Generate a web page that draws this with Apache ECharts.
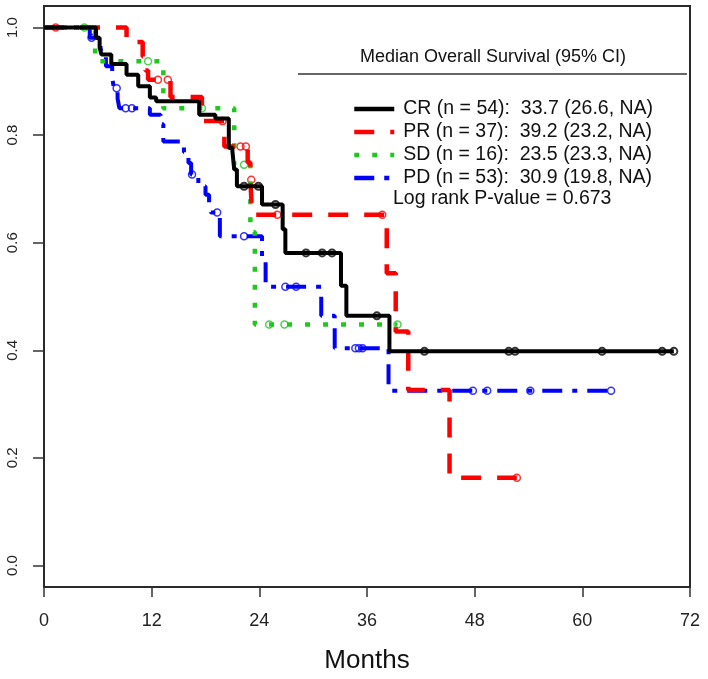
<!DOCTYPE html>
<html>
<head>
<meta charset="utf-8">
<script src="https://cdn.jsdelivr.net/npm/echarts@6/dist/echarts.min.js"></script>
<style>
html,body{margin:0;padding:0;background:#fff;}
#chart{width:708px;height:679px;}
</style>
</head>
<body>
<div id="chart"></div>
<script>
// ---- Data ----
const xTicks = [0, 12, 24, 36, 48, 60, 72];
const yTicks = [0, 0.2, 0.4, 0.6, 0.8, 1.0];

const groupNames = ['CR (n = 54):  33.7 (26.6, NA)', 'PR (n = 37):  39.2 (23.2, NA)', 'SD (n = 16):  23.5 (23.3, NA)', 'PD (n = 53):  30.9 (19.8, NA)'];
const headerText = 'Median Overall Survival (95% CI)';
const logRankText = 'Log rank P-value = 0.673';

const crTime = [0, 5.8, 6.2, 6.4, 7.5, 9.2, 10.5, 11.8, 12.5, 17.3, 19.1, 20.6, 21.0, 21.2, 21.5, 24.3, 26.6, 26.9, 33.1, 33.7, 38.5, 70.2];
const crSurv = [1, 0.981, 0.963, 0.950, 0.932, 0.912, 0.891, 0.870, 0.863, 0.838, 0.831, 0.776, 0.770, 0.736, 0.705, 0.671, 0.625, 0.581, 0.520, 0.464, 0.398, 0.398];
const crCens = [22.3, 23.9, 25.8, 29.2, 31.0, 32.1, 37.1, 42.4, 51.8, 52.5, 62.2, 68.9, 70.2];

const prTime = [0, 9.2, 11.0, 11.3, 11.6, 14.1, 17.6, 17.8, 20.1, 22.7, 23.0, 23.2, 38.2, 39.2, 40.6, 45.2, 52.7];
const prSurv = [1, 0.973, 0.946, 0.920, 0.903, 0.871, 0.848, 0.826, 0.779, 0.749, 0.717, 0.652, 0.543, 0.435, 0.326, 0.163, 0.163];
const prCens = [1.3, 12.7, 13.8, 19.9, 21.9, 22.5, 23.1, 26.0, 37.7, 52.7];

const sdTime = [0, 5.7, 13.3, 21.2, 23.0, 23.5, 39.4];
const sdSurv = [1, 0.9375, 0.850, 0.745, 0.620, 0.448, 0.448];
const sdCens = [4.5, 11.6, 17.6, 22.3, 25.1, 26.8, 39.4];

const pdTime = [0, 5.1, 6.3, 6.5, 6.9, 7.6, 7.8, 8.2, 8.4, 11.8, 13.0, 13.3, 15.6, 16.1, 16.4, 17.2, 18.0, 18.4, 18.6, 19.6, 24.3, 24.7, 30.9, 32.4, 38.4, 63.2];
const pdSurv = [1, 0.981, 0.962, 0.949, 0.928, 0.906, 0.887, 0.868, 0.850, 0.838, 0.820, 0.788, 0.768, 0.748, 0.727, 0.705, 0.689, 0.668, 0.656, 0.612, 0.565, 0.518, 0.464, 0.404, 0.325, 0.325];
const pdCens = [5.3, 8.1, 9.1, 9.8, 16.5, 19.3, 22.3, 26.9, 28.1, 34.7, 35.1, 35.5, 47.8, 49.4, 54.2, 63.2];

// ---- Build ----
const FONT = '"Liberation Sans", Arial, sans-serif';
function pairs(t, s) { return t.map((v, i) => [v, s[i]]); }
function survAt(t, s, x) { let v = s[0]; for (let i = 0; i < t.length; i++) { if (t[i] <= x) v = s[i]; } return v; }
function cens(t, s, c) { return c.map(x => [x, survAt(t, s, x)]); }

const groups = [
  {name: groupNames[0], t: crTime, s: crSurv, c: crCens, color: '#000000', width: 4, type: 'solid', bw: 2},
  {name: groupNames[1], t: prTime, s: prSurv, c: prCens, color: '#ff0000', width: 4.5, type: [20, 16], bw: 1.5},
  {name: groupNames[2], t: sdTime, s: sdSurv, c: sdCens, color: '#1fc71f', width: 4.5, type: [5, 13], bw: 1.5},
  {name: groupNames[3], t: pdTime, s: pdSurv, c: pdCens, color: '#0000ff', width: 4, type: [20, 10, 5, 10], bw: 1.5}
];

const series = [];
groups.slice().reverse().forEach(g => {
  series.push({
    name: g.name, type: 'line', step: 'end', data: pairs(g.t, g.s), symbol: 'none',
    lineStyle: {color: g.color, width: g.width, type: g.type, cap: 'butt'},
    itemStyle: {color: g.color}, silent: true
  });
});
groups.slice().reverse().forEach(g => {
  series.push({
    name: g.name + ' censored', type: 'scatter', data: cens(g.t, g.s, g.c), symbol: 'circle', symbolSize: 7,
    itemStyle: {color: 'rgba(0,0,0,0)', borderColor: g.color, borderWidth: g.bw}, silent: true
  });
});

const chart = echarts.init(document.getElementById('chart'), null, {renderer: 'canvas'});
chart.setOption({
  animation: false,
  backgroundColor: '#ffffff',
  grid: {left: 44, right: 18, top: 6, bottom: 91, show: true, borderColor: '#2a2a2a', borderWidth: 2, backgroundColor: 'transparent'},
  xAxis: {
    type: 'value', min: xTicks[0], max: xTicks[xTicks.length - 1], interval: 12,
    axisLine: {show: false, onZero: false},
    axisTick: {show: true, length: 10, inside: false, lineStyle: {color: '#333', width: 1.5}},
    axisLabel: {fontSize: 18, color: '#222', fontFamily: FONT, margin: 25},
    splitLine: {show: false},
    name: 'Months', nameLocation: 'middle', nameGap: 61,
    nameTextStyle: {fontSize: 26, color: '#111', fontFamily: FONT}
  },
  yAxis: {
    type: 'value', min: -0.04, max: 1.04,
    axisLine: {show: false, onZero: false},
    axisTick: {show: true, length: 11, inside: false, customValues: yTicks, lineStyle: {color: '#333', width: 1.5}},
    axisLabel: {customValues: yTicks, rotate: 90, fontSize: 15, color: '#222', fontFamily: FONT, margin: 24, formatter: v => v.toFixed(1)},
    splitLine: {show: false}
  },
  legend: {
    data: groupNames, orient: 'vertical', left: 347, top: 94, itemWidth: 40, itemHeight: 20, itemGap: 3,
    itemStyle: {opacity: 0},
    lineStyle: {width: 4.5},
    textStyle: {fontSize: 19.5, color: '#111', fontFamily: FONT, padding: [0, 0, 0, 4]},
    selectedMode: false
  },
  graphic: [
    {type: 'text', left: 360, top: 48, style: {text: headerText, fontSize: 18, fill: '#111', fontFamily: FONT}},
    {type: 'line', shape: {x1: 298, y1: 74, x2: 687, y2: 74}, style: {stroke: '#333', lineWidth: 1.5}},
    {type: 'text', left: 393, top: 189, style: {text: logRankText, fontSize: 19.5, fill: '#111', fontFamily: FONT}}
  ],
  series: series
});
</script>
</body>
</html>
